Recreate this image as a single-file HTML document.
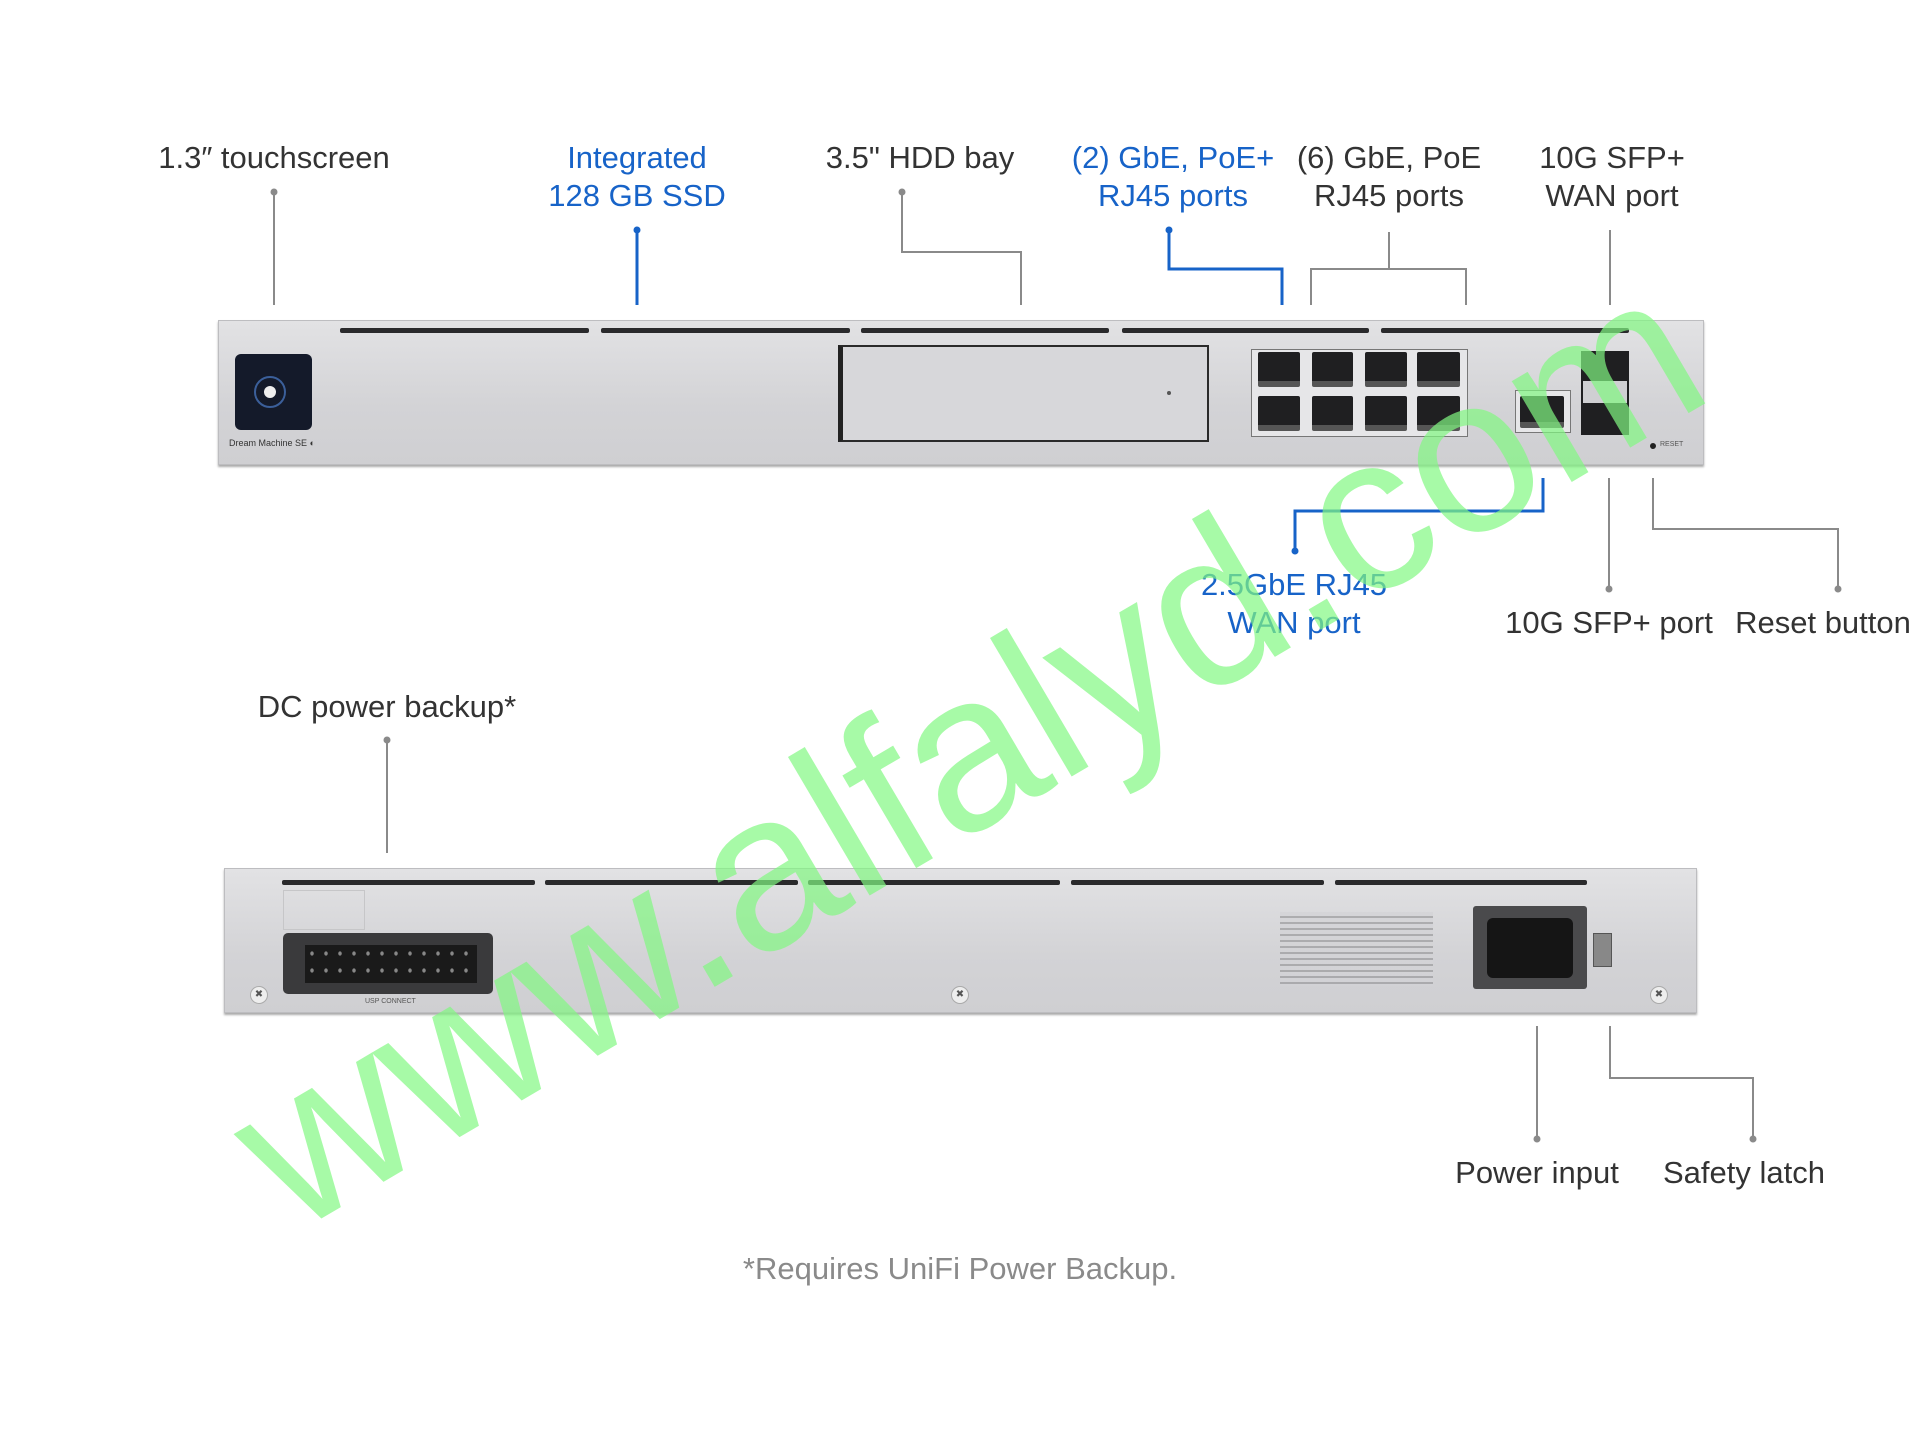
<!DOCTYPE html>
<html><head><meta charset="utf-8">
<style>
body{margin:0;width:1920px;height:1440px;background:#fff;position:relative;overflow:hidden;font-family:"Liberation Sans",sans-serif}
.l{position:absolute;font-size:31px;color:#333;text-align:center;line-height:38px;white-space:nowrap;transform:translateX(-50%)}
.b{color:#1763c8}
.panel{position:absolute;background:linear-gradient(#e2e2e4,#d3d3d6 60%,#cfcfd2);border:1px solid #bdbdc0;box-shadow:0 2px 2px #aaa}
.v{position:absolute;height:5px;background:#2a2a2c;border-radius:2px}
.p{position:absolute;background:#1f1f21;border-radius:2px;border-bottom:6px solid #555}
.a{position:absolute}
</style></head><body>

<svg class="a" style="left:0;top:0" width="1920" height="1440">
<g stroke="#8a8a8a" stroke-width="2" fill="none">
<path d="M274 192V305"/>
<path d="M902 192V252H1021V305"/>
<path d="M1389 232V269M1311 305V269H1466V305"/>
<path d="M1610 230V305"/>
<path d="M1609 478V589"/>
<path d="M1653 478V529H1838V589"/>
<path d="M387 740V853"/>
<path d="M1537 1026V1139"/>
<path d="M1610 1026V1078H1753V1139"/>
</g>
<g stroke="#1763c8" stroke-width="3" fill="none">
<path d="M637 230V305"/>
<path d="M1169 230V269H1282V305"/>
<path d="M1543 478V511H1295V551"/>
</g>
<g fill="#8a8a8a"><circle cx="274" cy="192" r="3.5"/><circle cx="902" cy="192" r="3.5"/><circle cx="1609" cy="589" r="3.5"/><circle cx="1838" cy="589" r="3.5"/><circle cx="387" cy="740" r="3.5"/><circle cx="1537" cy="1139" r="3.5"/><circle cx="1753" cy="1139" r="3.5"/></g>
<g fill="#1763c8"><circle cx="637" cy="230" r="3.5"/><circle cx="1169" cy="230" r="3.5"/><circle cx="1295" cy="551" r="3.5"/></g>
</svg>

<div class="l" style="left:274px;top:139px">1.3″ touchscreen</div>
<div class="l b" style="left:637px;top:139px">Integrated<br>128 GB SSD</div>
<div class="l" style="left:920px;top:139px">3.5" HDD bay</div>
<div class="l b" style="left:1173px;top:139px">(2) GbE, PoE+<br>RJ45 ports</div>
<div class="l" style="left:1389px;top:139px">(6) GbE, PoE<br>RJ45 ports</div>
<div class="l" style="left:1612px;top:139px">10G SFP+<br>WAN port</div>
<div class="l b" style="left:1294px;top:566px">2.5GbE RJ45<br>WAN port</div>
<div class="l" style="left:1609px;top:604px">10G SFP+ port</div>
<div class="l" style="left:1823px;top:604px">Reset button</div>
<div class="l" style="left:387px;top:688px">DC power backup*</div>
<div class="l" style="left:1537px;top:1154px">Power input</div>
<div class="l" style="left:1744px;top:1154px">Safety latch</div>
<div class="l" style="left:960px;top:1250px;color:#8a8a8a">*Requires UniFi Power Backup.</div>

<!-- front panel -->
<div class="panel" style="left:218px;top:320px;width:1484px;height:143px"></div>
<div class="v" style="left:340px;top:328px;width:249px"></div>
<div class="v" style="left:601px;top:328px;width:249px"></div>
<div class="v" style="left:861px;top:328px;width:248px"></div>
<div class="v" style="left:1122px;top:328px;width:247px"></div>
<div class="v" style="left:1381px;top:328px;width:248px"></div>
<div class="a" style="left:235px;top:354px;width:77px;height:76px;background:#141a2a;border-radius:6px"></div>
<div class="a" style="left:254px;top:376px;width:32px;height:32px;border:2px solid #3b5f9a;border-radius:50%;box-sizing:border-box"></div>
<div class="a" style="left:264px;top:386px;width:12px;height:12px;background:#eee;border-radius:50%"></div>
<div class="a" style="left:229px;top:438px;font-size:9px;color:#333">Dream Machine SE ◐</div>
<div class="a" style="left:838px;top:345px;width:364px;height:93px;border:2px solid #2a2a2a;border-left:5px solid #222;background:#d7d7da"></div>
<div class="a" style="left:1167px;top:391px;width:4px;height:4px;background:#555;border-radius:50%"></div>
<div class="a" style="left:1251px;top:349px;width:215px;height:86px;background:#e6e6e8;border:1px solid #777"></div>
<div class="p" style="left:1258px;top:352px;width:42px;height:29px"></div>
<div class="p" style="left:1312px;top:352px;width:41px;height:29px"></div>
<div class="p" style="left:1365px;top:352px;width:42px;height:29px"></div>
<div class="p" style="left:1417px;top:352px;width:43px;height:29px"></div>
<div class="p" style="left:1258px;top:396px;width:42px;height:29px"></div>
<div class="p" style="left:1312px;top:396px;width:41px;height:29px"></div>
<div class="p" style="left:1365px;top:396px;width:42px;height:29px"></div>
<div class="p" style="left:1417px;top:396px;width:43px;height:29px"></div>
<div class="a" style="left:1515px;top:390px;width:54px;height:41px;background:#e6e6e8;border:1px solid #777"></div>
<div class="p" style="left:1520px;top:396px;width:44px;height:26px"></div>
<div class="a" style="left:1581px;top:351px;width:48px;height:84px;background:#1f1f21"></div>
<div class="a" style="left:1583px;top:381px;width:44px;height:22px;background:#cfcfd2"></div>
<div class="a" style="left:1650px;top:443px;width:6px;height:6px;background:#222;border-radius:50%"></div>
<div class="a" style="left:1660px;top:441px;font-size:7px;color:#555">RESET</div>

<!-- back panel -->
<div class="panel" style="left:224px;top:868px;width:1471px;height:143px"></div>
<div class="v" style="left:282px;top:880px;width:253px"></div>
<div class="v" style="left:545px;top:880px;width:253px"></div>
<div class="v" style="left:808px;top:880px;width:252px"></div>
<div class="v" style="left:1071px;top:880px;width:253px"></div>
<div class="v" style="left:1335px;top:880px;width:252px"></div>
<div class="a" style="left:283px;top:890px;width:80px;height:38px;border:1px solid #c6c6c8"></div>
<div class="a" style="left:283px;top:933px;width:210px;height:61px;background:#3a3a3c;border-radius:5px"></div>
<div class="a" style="left:305px;top:945px;width:172px;height:38px;background:#1a1a1a;background-image:radial-gradient(#888 1.5px,transparent 2px);background-size:14px 17px"></div>
<div class="a" style="left:365px;top:998px;font-size:7px;color:#555">USP CONNECT</div>
<div class="a" style="left:1280px;top:912px;width:153px;height:74px;background:repeating-linear-gradient(#d3d3d6 0 4px,#9a9a9c 4px 6px);opacity:.7"></div>
<div class="a" style="left:1473px;top:906px;width:114px;height:83px;background:#4a4a4c;border-radius:3px"></div>
<div class="a" style="left:1487px;top:918px;width:86px;height:60px;background:#151515;border-radius:6px"></div>
<div class="a" style="left:1593px;top:933px;width:17px;height:32px;background:#888;border:1px solid #555"></div>
<div class="a" style="left:250px;top:986px;width:16px;height:16px;border-radius:50%;background:#eee;border:1px solid #aaa;font-size:10px;text-align:center;line-height:16px;color:#555">✖</div>
<div class="a" style="left:951px;top:986px;width:16px;height:16px;border-radius:50%;background:#eee;border:1px solid #aaa;font-size:10px;text-align:center;line-height:16px;color:#555">✖</div>
<div class="a" style="left:1650px;top:986px;width:16px;height:16px;border-radius:50%;background:#eee;border:1px solid #aaa;font-size:10px;text-align:center;line-height:16px;color:#555">✖</div>

<!-- watermark -->
<div class="a" style="left:967px;top:750px;transform:translate(-50%,-50%) rotate(-30.5deg);font-size:222px;color:rgb(130,248,130);opacity:.7;white-space:nowrap;line-height:1">www.alfalyd.com</div>
</body></html>
